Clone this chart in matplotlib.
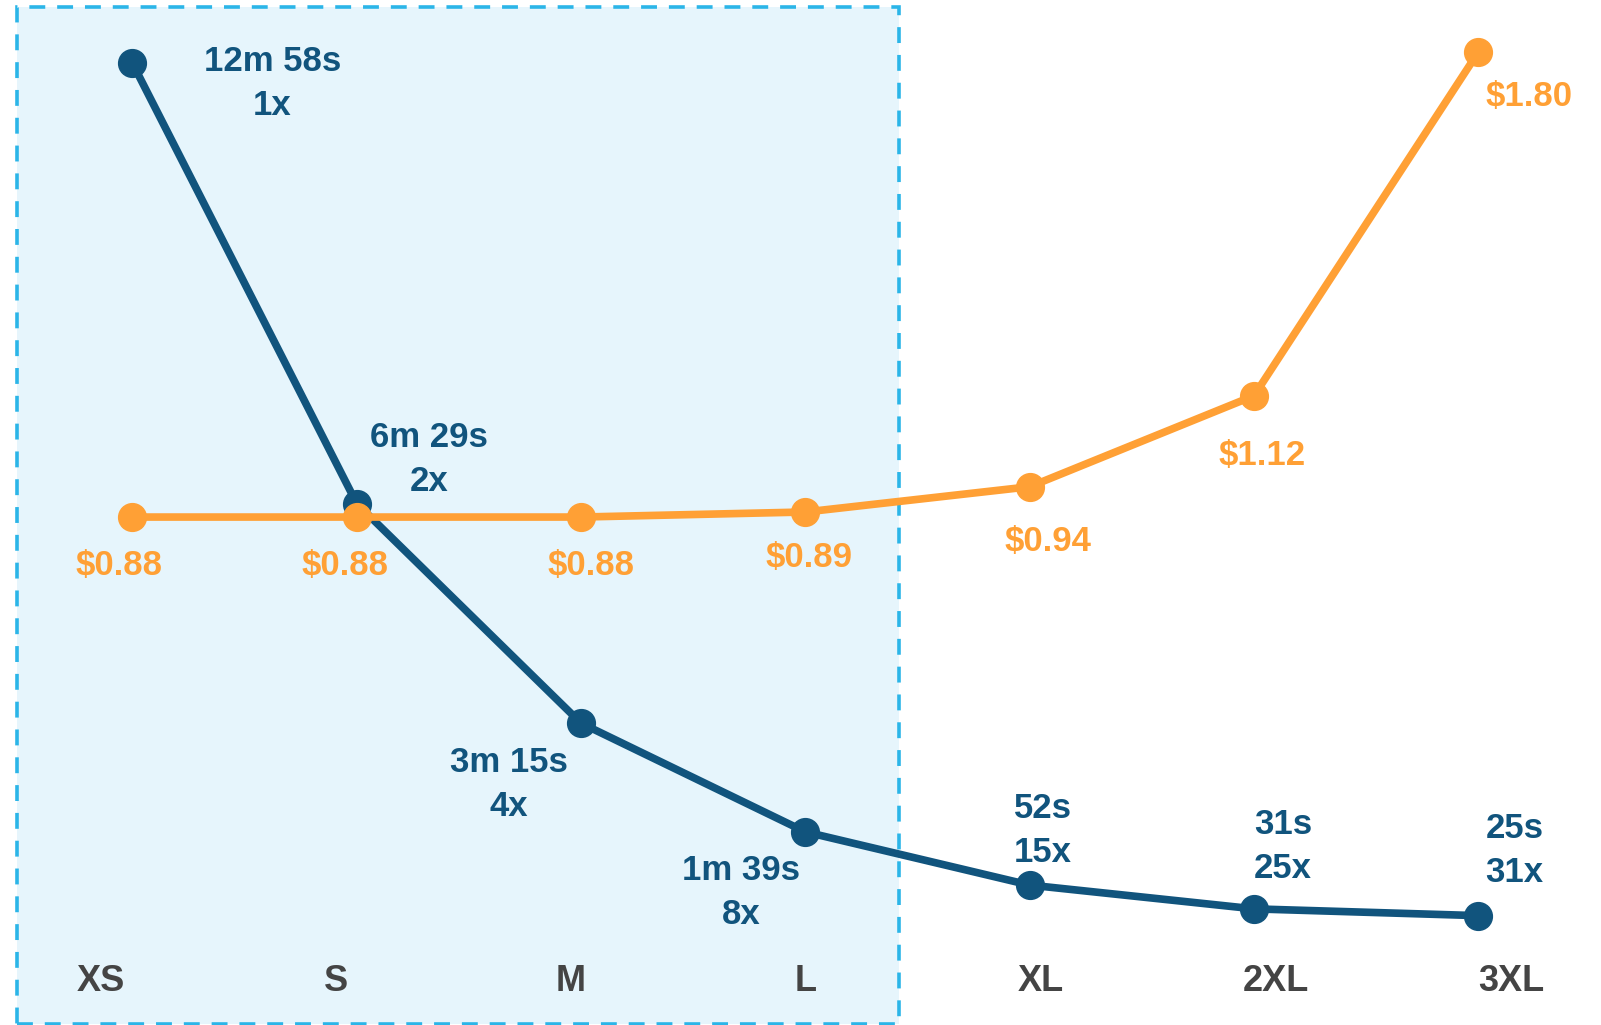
import matplotlib.pyplot as plt
from matplotlib.patches import Rectangle

# instance sizes and measured values
sizes = ['XS', 'S', 'M', 'L', 'XL', '2XL', '3XL']
duration_s = [778, 389, 195, 99, 52, 31, 25]
cost_usd = [0.88, 0.88, 0.88, 0.89, 0.94, 1.12, 1.80]

BLUE = '#11547d'
ORANGE = '#ffa035'
GREY = '#444444'
BOX_FILL = '#e6f5fc'
BOX_EDGE = '#2bb5e8'

plt.rcParams['font.family'] = ['Liberation Sans', 'DejaVu Sans']
plt.rcParams['font.weight'] = 'bold'


def fmt_duration(sec):
    m, s = divmod(sec, 60)
    return f'{m}m {s}s' if m else f'{s}s'


time_labels = [fmt_duration(d) for d in duration_s]
speedup_labels = [f'{round(duration_s[0] / d)}x' for d in duration_s]
cost_labels = [f'${c:.2f}' for c in cost_usd]

# label offsets (pixels) from each point
time_offsets = [(140, -20), (72, 44), (-72, -61), (-64, -61), (13, 55), (29, 62), (36, 65)]
cost_offsets = [(-13, -48), (-12, -48), (10, -48), (4, -46), (18, -55), (8, -60), (51, -44)]

fig = plt.figure(figsize=(16.01, 10.25), dpi=100)

# axes holding the category labels and the highlight box
ax_cat = fig.add_axes([0, 0, 1, 1])
ax_cat.set_xlim(-0.4275, 6.382)
ax_cat.set_ylim(0, 1)
ax_cat.axis('off')

# axes for the two series (points sit a bit inside the label spread)
ax = fig.add_axes([0, 0, 1, 1])
ax2 = ax.twinx()
ax.set_xlim(-0.5907, 6.547)
ax.set_ylim(-71.6, 833.9)
ax2.set_ylim(-0.125, 1.903)
ax.axis('off')
ax2.axis('off')

x = list(range(len(sizes)))

# highlighted region XS..L
box = Rectangle((x[0] - 0.355, 0.001), (x[3] - x[0]) + 0.751, 0.992,
                facecolor=BOX_FILL, edgecolor=BOX_EDGE,
                linewidth=2.6, linestyle=(0, (4.4, 3.3)), zorder=0,
                clip_on=False)
ax_cat.add_patch(box)

for xi, s in zip(x, sizes):
    ax_cat.text(xi, 0.042, s, ha='center', va='center',
                color=GREY, fontsize=26, fontweight='bold')

# duration line
ax.plot(x, duration_s, color=BLUE, linewidth=5.5, marker='o', markersize=20,
        zorder=3, solid_capstyle='round')
for xi, yi, t, sp, (dx, dy) in zip(x, duration_s, time_labels, speedup_labels, time_offsets):
    ax.annotate(t, (xi, yi), xytext=(dx, dy + 22), textcoords='offset pixels',
                ha='center', va='center', color=BLUE, fontsize=25, fontweight='bold')
    ax.annotate(sp, (xi, yi), xytext=(dx, dy - 22), textcoords='offset pixels',
                ha='center', va='center', color=BLUE, fontsize=25, fontweight='bold')

# cost line
ax2.plot(x, cost_usd, color=ORANGE, linewidth=5.5, marker='o', markersize=20,
         zorder=4, solid_capstyle='round')
for xi, yi, c, (dx, dy) in zip(x, cost_usd, cost_labels, cost_offsets):
    ax2.annotate(c, (xi, yi), xytext=(dx, dy), textcoords='offset pixels',
                 ha='center', va='center', color=ORANGE, fontsize=25, fontweight='bold')

fig.savefig('out.png', dpi=100)
